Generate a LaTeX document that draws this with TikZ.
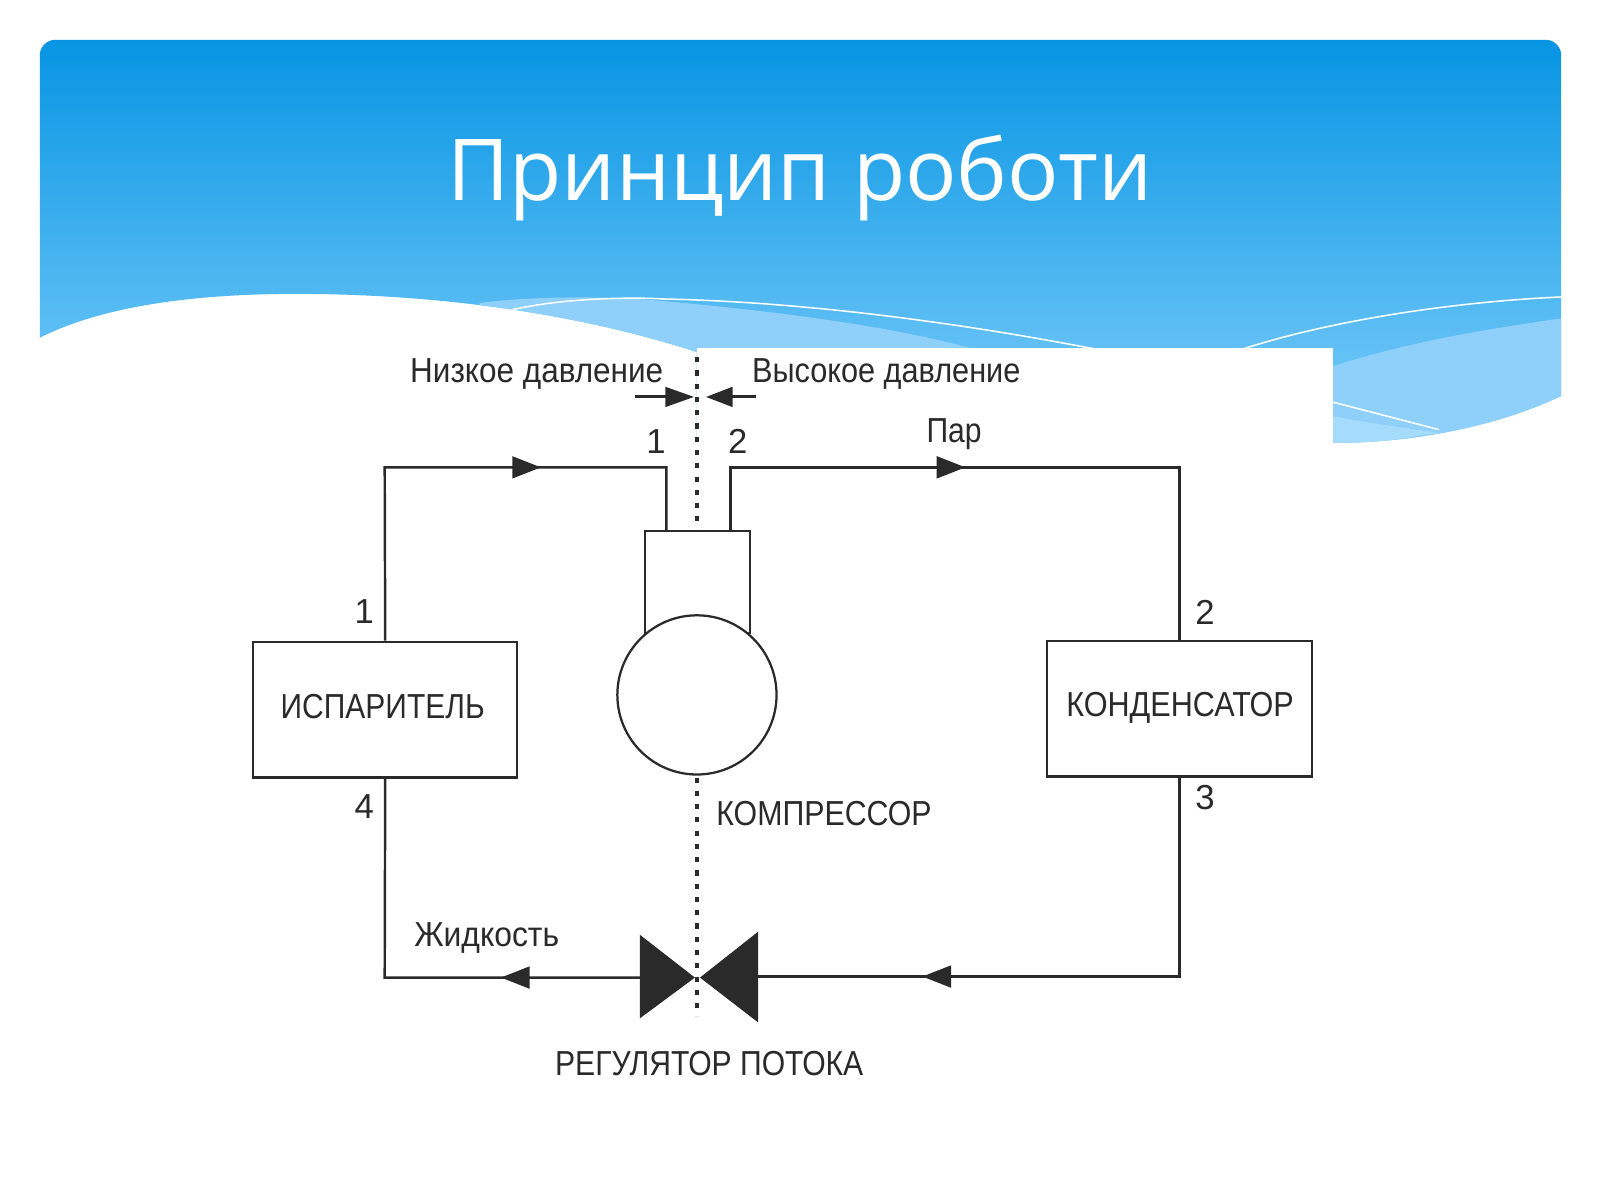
\documentclass[tikz,border=0pt]{standalone}
\usepackage{fontspec}
\usepackage{graphicx}
\setmainfont{Liberation Sans}
\newfontfamily\titlefont{Open Sans}
\definecolor{ink}{HTML}{2A2A2A}
\definecolor{paneltop}{HTML}{0795E3}
\definecolor{panelbot}{HTML}{7CCDFA}
\definecolor{lightwave}{HTML}{8ED0F9}
\definecolor{lightwaveb}{HTML}{A6DCFB}
\newcommand{\fitw}[2]{\resizebox{#1pt}{\height}{#2}}
\tikzset{
  lbl/.style={inner sep=0pt,text=ink,font=\fontsize{34}{40}\selectfont},
  unit/.style={draw=ink,line width=2.2pt,fill=white,inner sep=0pt},
  pipe/.style={draw=ink,line width=2.4pt,line join=miter},
  axisline/.style={draw=ink,line width=3.6pt,dash pattern=on 5pt off 8pt},
  tipfill/.style={fill=ink,draw=none}
}
\begin{document}
\begin{tikzpicture}[x=1pt,y=-1pt]
\useasboundingbox (0,0) rectangle (1568,1176);
\fill[white] (0,0) rectangle (1568,1176);
% panel
\begin{scope}
\clip (39,331) -- (39,54) .. controls (39,46) and (46,39) .. (54,39) -- (1515,39)
  .. controls (1523,39) and (1530,46) .. (1530,54) -- (1530,388)
  .. controls (1480,412) and (1400,434) .. (1306,434) -- (683,434) -- (683,345)
  .. controls (560,305) and (420,288) .. (290,288) .. controls (190,288) and (100,300) .. (39,331) -- cycle;
\shade[top color=paneltop,bottom color=panelbot] (39,39) rectangle (1530,434);
\fill[lightwave] (470,297) .. controls (520,290) and (600,290) .. (650,295)
  .. controls (760,305) and (880,320) .. (965,345) -- (965,434) -- (470,434) -- cycle;
\fill[lightwave] (1306,359) .. controls (1380,335) and (1460,322) .. (1530,312) -- (1530,434) -- (1306,434) -- cycle;
\fill[lightwaveb] (1306,408) .. controls (1340,414) and (1380,420) .. (1410,424) -- (1306,440) -- cycle;
\draw[white,line width=1.5pt] (500,304) .. controls (550,292) and (620,291) .. (650,293)
  .. controls (800,296) and (960,320) .. (1078,343);
\draw[white,line width=1.5pt] (1215,343) .. controls (1300,315) and (1420,296) .. (1530,291);
\draw[white,line width=1.5pt] (1306,394) -- (1410,421);
\end{scope}
\fill[white] (683,341) rectangle (1306,435);
% title
\node[inner sep=0pt,text=white,font=\titlefont\fontsize{83.7}{95}\selectfont] (title) at (784,174) {Принцип роботи};
% units
\node[unit,minimum width=259pt,minimum height=133pt] (evap) at (377.5,695.5) {};
\node[unit,minimum width=260pt,minimum height=133pt] (cond) at (1156,694.5) {};
\node[unit,minimum width=103pt,minimum height=100pt] (cyl) at (683.5,570) {};
\node[unit,circle,minimum size=156pt] (comp) at (683,681) {};
% named points
\coordinate (tl) at (377,458);
\coordinate (inl) at (653,458);
\coordinate (inb) at (653,520);
\coordinate (outt) at (716,458);
\coordinate (outb) at (716,520);
\coordinate (tr) at (1156,458);
\coordinate (br) at (1156,957);
\coordinate (bl) at (377,958);
\coordinate (vr) at (743,957);
\coordinate (vl) at (628,958);
\coordinate (axt) at (683,350);
\coordinate (axb) at (683,520);
\coordinate (axc) at (683,762);
\coordinate (axd) at (683,996);
\coordinate (pl) at (622,389);
\coordinate (pr) at (741,389);
\coordinate (pla) at (660,389);
\coordinate (pra) at (705,389);
% axis
\draw[axisline] (axt) -- (axb);
\draw[axisline] (axc) -- (axd);
% pipes
\draw[pipe] (evap.north) -- (tl) -- (inl) -- (inb);
\draw[pipe] (outb) -- (outt) -- (tr) -- (cond.north);
\draw[pipe] (cond.south) -- (br) -- (vr);
\draw[pipe] (vl) -- (bl) -- (evap.south);
\draw[pipe,line width=3pt] (pl) -- (pla);
\draw[pipe,line width=3pt] (pr) -- (pra);
% arrowheads
\fill[tipfill] (502,447) -- (530,458) -- (502,469) -- cycle;
\fill[tipfill] (918,447) -- (946,458) -- (918,469) -- cycle;
\fill[tipfill] (932,946) -- (904,957) -- (932,968) -- cycle;
\fill[tipfill] (519,947) -- (491,958) -- (519,969) -- cycle;
\fill[tipfill] (652,379) -- (680,389) -- (652,399) -- cycle;
\fill[tipfill] (718,379) -- (692,389) -- (718,399) -- cycle;
% valve
\fill[tipfill] (627,916) -- (681,958) -- (627,998) -- cycle;
\fill[tipfill] (743,913) -- (686,958) -- (743,1002) -- cycle;
% labels
\node[lbl] (t1) at (526,367) {\fitw{248}{Низкое давление}};
\node[lbl] (t2) at (868.5,367) {\fitw{263}{Высокое давление}};
\node[lbl] (t3) at (935,425) {\fitw{54}{Пар}};
\node[lbl] (n1a) at (643,433) {1};
\node[lbl] (n2a) at (723,433) {2};
\node[lbl] (n1b) at (357,599) {1};
\node[lbl] (n2b) at (1181,600) {2};
\node[lbl] (n4) at (357,790) {4};
\node[lbl] (n3) at (1181,782) {3};
\node[lbl] (t4) at (375,692) {\fitw{200}{ИСПАРИТЕЛЬ}};
\node[lbl] (t5) at (1156.5,694) {\fitw{223}{КОНДЕНСАТОР}};
\node[lbl] (t6) at (807.5,797) {\fitw{211}{КОМПРЕССОР}};
\node[lbl] (t7) at (477,919) {\fitw{142}{Жидкость}};
\node[lbl] (t8) at (695,1042) {\fitw{302}{РЕГУЛЯТОР ПОТОКА}};
\end{tikzpicture}
\end{document}
